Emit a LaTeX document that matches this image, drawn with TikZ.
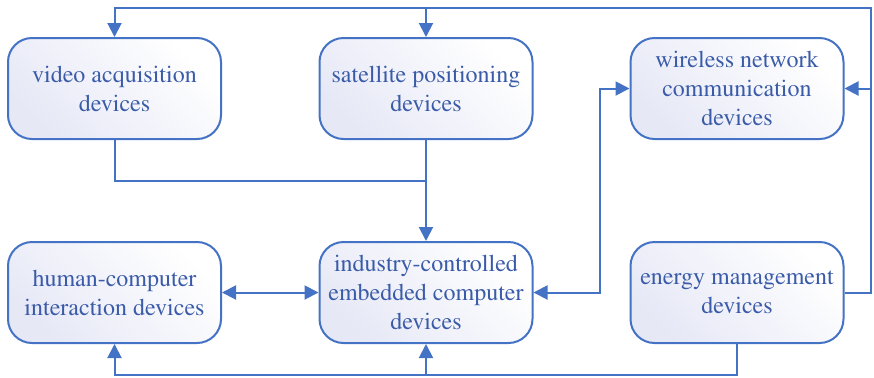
\documentclass[tikz,border=0pt]{standalone}
\usepackage[T1]{fontenc}
\usepackage{mathptmx}
\usetikzlibrary{arrows.meta, positioning}

\definecolor{devline}{HTML}{4472C4}
\definecolor{devtext}{HTML}{3A5BA8}
\definecolor{devfill}{HTML}{E6E8F6}

\tikzset{
  device/.style={draw=devline, line width=1pt, rounded corners=12pt,
    minimum width=106.5pt, minimum height=50.5pt, align=center,
    text=devtext, font=\fontsize{12}{14.5}\selectfont,
    shading=axis, left color=devfill, right color=white, shading angle=135},
  link/.style={draw=devline, line width=1pt},
  tip/.style={-{Triangle[length=7pt,width=7pt]}},
  tips/.style={{Triangle[length=7pt,width=7pt]}-{Triangle[length=7pt,width=7pt]}}
}

\begin{document}
\begin{tikzpicture}[x=0.5pt, y=-0.5pt]
  \useasboundingbox (0,0) rectangle (874,377);

  % devices
  \node[device] (video)    at (114.5,88.5)  {video acquisition\\devices};
  \node[device] (sat)      at (426,88.5)    {satellite positioning\\devices};
  \node[device] (wireless) at (737,88.5)    {wireless network\\communication\\devices};
  \node[device] (human)    at (114.5,292.5) {human-computer\\interaction devices};
  \node[device] (industry) at (426,292.5)   {industry-controlled\\embedded computer\\devices};
  \node[device] (energy)   at (737,292.5)   {energy management\\devices};

  % bus points
  \coordinate (rtop) at (871,8);
  \coordinate (rbot) at (871,292.5);
  \coordinate (join) at (426,181);
  \coordinate (low)  at (0,375);

  % energy feeds the top row
  \draw[link, tip] (energy.east) -- (rbot) -- (rtop) -| (video.north);
  \draw[link, tip] (rtop) -| (sat.north);
  \draw[link, tip] (wireless.east -| rtop) -- (wireless.east);

  % sensors into the controller
  \draw[link] (video.south) |- (join);
  \draw[link, tip] (sat.south) -- (industry.north);

  % two-way links
  \draw[link, tips] (human.east) -- (industry.west);
  \draw[link, tips] (industry.east) -- ++(66,0) |- (wireless.west);

  % energy feeds the bottom row
  \draw[link, tip] (energy.south) -- (energy.south |- low) -| (human.south);
  \draw[link, tip] (industry.south |- low) -- (industry.south);
\end{tikzpicture}
\end{document}
